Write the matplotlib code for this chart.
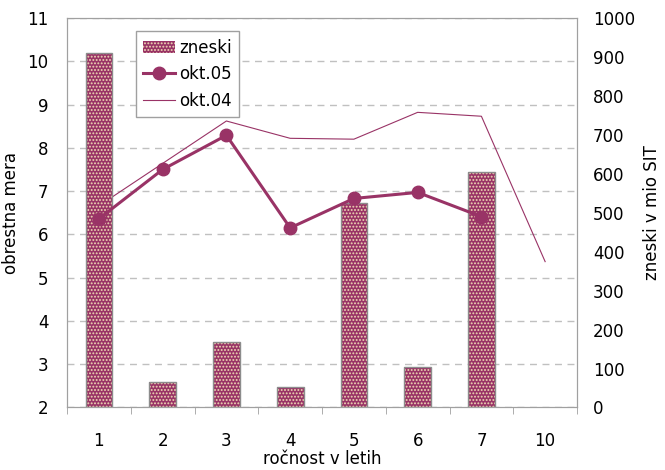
import numpy as np
import matplotlib
matplotlib.use('Agg')
import matplotlib.pyplot as plt
from matplotlib.ticker import FixedLocator
from matplotlib.patches import Patch

plt.rcParams['font.family'] = ['DejaVu Sans']
plt.rcParams['font.size'] = 12
plt.rcParams['hatch.linewidth'] = 0.9

# data
categories = ['1', '2', '3', '4', '5', '6', '7', '10']
zneski = [910, 65, 167, 53, 525, 105, 605, np.nan]          # mio SIT, right axis
okt05 = [6.36, 7.50, 8.29, 6.15, 6.83, 6.97, 6.41, np.nan]   # %, left axis
okt04 = [6.66, 7.64, 8.62, 8.22, 8.20, 8.82, 8.73, 5.37]     # %, left axis

plum = '#993366'
dots = '#f0dcb4'
grey = '#a0a0a0'
x = np.arange(len(categories))

fig = plt.figure(figsize=(6.65, 4.7), dpi=100)
ax = fig.add_axes([0.1008, 0.133, 0.7669, 0.8287])
ax2 = ax.twinx()

# gridlines and thin line on the left (rate) axis, below the bars
ax.set_ylim(2, 11)
ax.set_yticks(np.arange(2, 12, 1))
ax.yaxis.grid(True, linestyle=(0, (5, 4)), color='#c0c0c0', linewidth=1)
ax.set_axisbelow(True)
l04, = ax.plot(x, okt04, color=plum, lw=0.8, label='okt.04')

# bars on the right (amount) axis
ax2.set_ylim(0, 1000)
ax2.set_yticks(np.arange(0, 1001, 100))
ax2.bar(x, zneski, width=0.42, color=plum, edgecolor=dots,
        hatch='.....', linewidth=0, zorder=2)
ax2.bar(x, zneski, width=0.42, fill=False, edgecolor='#8c8c8c',
        linewidth=1, zorder=2.1)

# thick line uses the left scale but is drawn above the bars
l05, = ax2.plot(x, okt05, transform=ax.transData, color=plum, lw=2.2,
                marker='o', markersize=9, zorder=3, label='okt.05')

for a in (ax, ax2):
    a.set_xlim(-0.5, len(categories) - 0.5)
    for s in a.spines.values():
        s.set_color(grey)
    a.tick_params(axis='y', length=0)

ax.set_xticks(x)
ax.set_xticklabels(categories)
ax.xaxis.set_minor_locator(FixedLocator(np.arange(-0.5, len(categories), 1)))
ax.tick_params(axis='x', which='major', length=0, pad=18)
ax.tick_params(axis='x', which='minor', length=5, color=grey, direction='out')
ax.tick_params(axis='y', pad=13.5)
ax2.tick_params(axis='y', pad=11.5)

ax.set_xlabel('ročnost v letih', labelpad=0)
ax.set_ylabel('obrestna mera', labelpad=5)
ax2.set_ylabel('zneski v mio SIT', labelpad=6)

# legend proxy for the bar so it shows the pattern
bar_proxy = Patch(facecolor=plum, edgecolor=dots, hatch='.....', linewidth=0)
leg = ax2.legend([bar_proxy, l05, l04], ['zneski', 'okt.05', 'okt.04'],
                 loc='upper left', bbox_to_anchor=(0.2045, 0.933),
                 bbox_transform=fig.transFigure, fancybox=False,
                 edgecolor=grey, framealpha=1, borderpad=0.45,
                 handlelength=1.9, handletextpad=0.25, labelspacing=0.5,
                 borderaxespad=0)
leg.get_frame().set_linewidth(1)

fig.savefig('out.png', dpi=100)
